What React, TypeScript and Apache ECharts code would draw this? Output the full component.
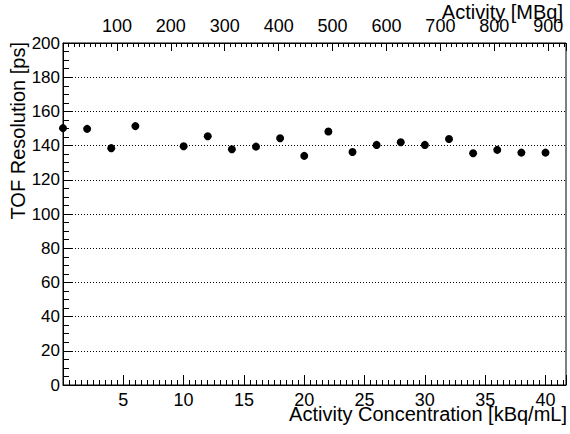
import React, { useEffect, useRef } from "react";
import * as echarts from "echarts";

const concentration = [0, 2, 4, 6, 10, 12, 14, 16, 18, 20, 22, 24, 26, 28, 30, 32, 34, 36, 38, 40];
const tofResolution = [150.2, 149.8, 138.5, 151.4, 139.6, 145.5, 137.9, 139.4, 144.3, 134.0, 148.2, 136.3, 140.4, 142.0, 140.4, 143.9, 135.5, 137.5, 135.9, 135.9];

const xTitle = "Activity Concentration [kBq/mL]";
const x2Title = "Activity [MBq]";
const yTitle = "TOF Resolution [ps]";

const FONT = "'Liberation Sans', Arial, Helvetica, sans-serif";

export default function App() {
  const ref = useRef<HTMLDivElement>(null);
  useEffect(() => {
    if (!ref.current) return;
    const chart = echarts.init(ref.current, null, { renderer: "svg" });
    const points = concentration.map((c, i) => [c, tofResolution[i]]);
    chart.setOption({
      animation: false,
      backgroundColor: "#ffffff",
      grid: {
        left: 63,
        right: 4,
        top: 43,
        bottom: 49,
        show: true,
        borderColor: "#000",
        borderWidth: 1,
        backgroundColor: "transparent",
      },
      xAxis: [
        {
          type: "value",
          position: "bottom",
          min: 0,
          max: 41.7,
          interval: 5,
          axisLine: { show: true, onZero: false, lineStyle: { color: "#000", width: 1 } },
          axisTick: { show: true, inside: true, length: 10, lineStyle: { color: "#000" } },
          minorTick: { show: true, splitNumber: 10, length: 5, lineStyle: { color: "#000" } },
          splitLine: { show: false },
          axisLabel: {
            margin: 6,
            color: "#000",
            fontSize: 18,
            fontFamily: FONT,
            formatter: (v: number) => (v > 0 && Math.abs(v % 5) < 1e-9 ? String(v) : ""),
          },
        },
        {
          type: "value",
          position: "top",
          min: 0,
          max: 933,
          interval: 100,
          axisLine: { show: true, onZero: false, lineStyle: { color: "#000", width: 1 } },
          axisTick: { show: true, inside: true, length: 8, lineStyle: { color: "#000" } },
          minorTick: { show: true, splitNumber: 10, length: 4, lineStyle: { color: "#000" } },
          splitLine: { show: false },
          axisLabel: {
            margin: 8,
            color: "#000",
            fontSize: 18,
            fontFamily: FONT,
            formatter: (v: number) => (v > 0 && Math.abs(v % 100) < 1e-9 ? String(v) : ""),
          },
        },
      ],
      yAxis: {
        type: "value",
        min: 0,
        max: 200,
        interval: 20,
        axisLine: { show: true, onZero: false, lineStyle: { color: "#000", width: 1 } },
        axisTick: { show: true, inside: true, length: 9, lineStyle: { color: "#000" } },
        minorTick: { show: true, splitNumber: 4, length: 6, lineStyle: { color: "#000" } },
        splitLine: { show: true, lineStyle: { color: "#000", width: 1, type: [1, 2] } },
        axisLabel: {
          margin: 3,
          color: "#000",
          fontSize: 17,
          fontFamily: FONT,
        },
      },
      series: [
        {
          type: "scatter",
          xAxisIndex: 0,
          yAxisIndex: 0,
          data: points,
          symbol: "circle",
          symbolSize: 8,
          itemStyle: { color: "#000", opacity: 1 },
          clip: false,
        },
      ],
      graphic: [
        {
          type: "text",
          x: 567,
          y: 414,
          style: {
            text: xTitle,
            textAlign: "right",
            textVerticalAlign: "middle",
            fontSize: 20,
            fontFamily: FONT,
            fill: "#000",
          },
        },
        {
          type: "text",
          x: 563,
          y: 12,
          style: {
            text: x2Title,
            textAlign: "right",
            textVerticalAlign: "middle",
            fontSize: 20,
            fontFamily: FONT,
            fill: "#000",
          },
        },
        {
          type: "text",
          x: 18,
          y: 42,
          rotation: Math.PI / 2,
          style: {
            text: yTitle,
            textAlign: "right",
            textVerticalAlign: "middle",
            fontSize: 20,
            fontFamily: FONT,
            fill: "#000",
          },
        },
      ],
    });
    return () => chart.dispose();
  }, []);
  return (
    <div
      ref={ref}
      style={{ position: "fixed", left: 0, top: 0, width: 570, height: 434 }}
    />
  );
}
